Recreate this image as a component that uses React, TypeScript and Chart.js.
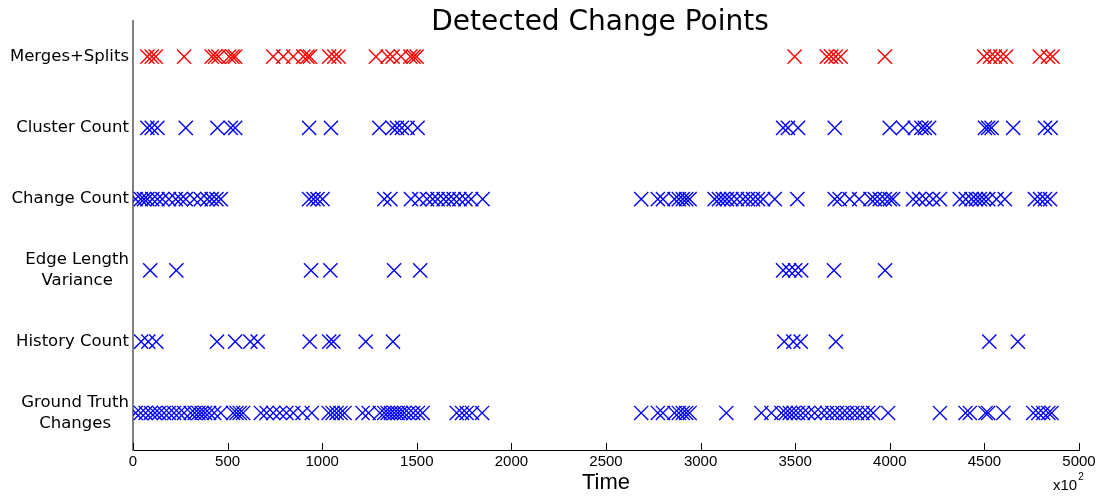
import { useEffect, useRef } from "react";
import { Chart, registerables } from "chart.js";

Chart.register(...registerables);

// Row labels, bottom (y = 0) to top (y = 5)
const rowLabels = [
  "Ground Truth\nChanges",
  "History Count",
  "Edge Length\nVariance",
  "Change Count",
  "Cluster Count",
  "Merges+Splits",
];

const xTickStep = 500;
const xMin = 0;
const xMax = 5000;

const mergesSplits = [
  76, 99, 120, 270, 416, 434, 452, 508, 526, 540, 741, 794, 847, 900, 922, 935,
  1037, 1064, 1087, 1284, 1346, 1372, 1416, 1466, 1483, 1499,
  3497, 3667, 3690, 3714, 3740, 3974, 4498, 4530, 4555, 4585, 4614, 4793, 4836, 4860,
];

const clusterCount = [
  76, 99, 129, 279, 446, 517, 540, 931, 1046, 1302, 1372, 1395, 1421, 1451, 1504,
  3436, 3462, 3515, 3709, 4000, 4070, 4132, 4167, 4185, 4208, 4503, 4520, 4538,
  4652, 4820, 4850,
];

const changeCount = [
  14, 41, 58, 76, 102, 129, 155, 190, 226, 252, 279, 323, 358, 393, 416, 441, 464,
  931, 954, 975, 1002, 1328, 1360, 1469, 1513, 1554, 1584, 1610, 1642, 1668, 1695,
  1725, 1757, 1787, 1848,
  2686, 2774, 2801, 2862, 2885, 2906, 2924, 2942, 3074, 3097, 3118, 3139, 3162,
  3192, 3224, 3250, 3277, 3303, 3330, 3392, 3511, 3709, 3735, 3788, 3838, 3898,
  3921, 3947, 3974, 4000, 4017, 4123, 4155, 4190, 4229, 4265, 4370, 4402, 4432,
  4455, 4476, 4497, 4520, 4564, 4608, 4767, 4794, 4820, 4847,
];

const edgeLengthVariance = [
  91, 229, 941, 1043, 1380, 1518, 3436, 3468, 3500, 3532, 3705, 3975,
];

const historyCount = [
  43, 81, 123, 444, 540, 620, 659, 934, 1037, 1059, 1230, 1374, 3442, 3490, 3529,
  3715, 4526, 4677,
];

const groundTruth = [
  14, 41, 67, 94, 116, 138, 164, 190, 217, 243, 270, 305, 326, 346, 363, 381, 402,
  429, 464, 529, 547, 564, 582, 676, 706, 741, 776, 811, 847, 896, 945, 1034, 1055,
  1076, 1097, 1118, 1213, 1245, 1305, 1328, 1346, 1363, 1381, 1399, 1416, 1434,
  1457, 1481, 1506, 1531, 1711, 1739, 1763, 1792, 1845,
  2686, 2774, 2801, 2862, 2885, 2906, 2924, 2942, 3136, 3321, 3374, 3427, 3450,
  3471, 3492, 3515, 3541, 3568, 3603, 3639, 3668, 3697, 3721, 3750, 3774, 3803,
  3827, 3855, 3885, 3912, 3991, 4265, 4400, 4423, 4506, 4520, 4600, 4758, 4785,
  4811, 4838, 4855,
];

const series = [
  { values: groundTruth, row: 0, color: "rgb(0,0,255)" },
  { values: historyCount, row: 1, color: "rgb(0,0,255)" },
  { values: edgeLengthVariance, row: 2, color: "rgb(0,0,255)" },
  { values: changeCount, row: 3, color: "rgb(0,0,255)" },
  { values: clusterCount, row: 4, color: "rgb(0,0,255)" },
  { values: mergesSplits, row: 5, color: "rgb(255,0,0)" },
];

const SANS = '"DejaVu Sans", Verdana, sans-serif';
const ARIAL = '"Liberation Sans", Arial, sans-serif';

const decorPlugin = {
  id: "decor",
  afterDraw(chart: any) {
    const ctx = chart.ctx;
    const xs = chart.scales.x;
    const ys = chart.scales.y;
    ctx.save();
    // Title
    ctx.fillStyle = "#000";
    ctx.font = `28px ${SANS}`;
    ctx.textAlign = "center";
    ctx.textBaseline = "middle";
    ctx.fillText("Detected Change Points", 600, 23);

    // Row labels
    ctx.font = `16.5px ${SANS}`;
    const right = 129;
    rowLabels.forEach((lab, i) => {
      const lines = lab.split("\n");
      const w = Math.max(...lines.map((l) => ctx.measureText(l).width));
      const cx = right - w / 2;
      const cy = ys.getPixelForValue(i);
      const lh = 21;
      lines.forEach((l, k) => {
        ctx.fillText(l, cx, cy + (k - (lines.length - 1) / 2) * lh);
      });
    });

    // Inward ticks on x axis
    ctx.strokeStyle = "#000";
    ctx.lineWidth = 1;
    const bottom = chart.chartArea.bottom;
    for (let v = xMin; v <= xMax; v += xTickStep) {
      const px = Math.round(xs.getPixelForValue(v)) + 0.5;
      ctx.beginPath();
      ctx.moveTo(px, bottom);
      ctx.lineTo(px, bottom - 7);
      ctx.stroke();
    }

    // x10^2 multiplier
    ctx.textAlign = "left";
    ctx.textBaseline = "alphabetic";
    ctx.font = `15px ${ARIAL}`;
    ctx.fillText("x10", 1053, 490);
    const w = ctx.measureText("x10").width;
    ctx.font = `10px ${ARIAL}`;
    ctx.fillText("2", 1053 + w + 1, 480);
    ctx.restore();
  },
};

export default function App() {
  const ref = useRef<HTMLCanvasElement | null>(null);
  useEffect(() => {
    document.body.style.margin = "0";
    const canvas = ref.current;
    if (!canvas) return;
    const chart = new Chart(canvas, {
      type: "scatter",
      data: {
        datasets: series.map((s) => ({
          data: s.values.map((v) => ({ x: v, y: s.row })),
          pointStyle: "crossRot",
          pointRadius: 10,
          pointHoverRadius: 10,
          borderColor: s.color,
          pointBorderColor: s.color,
          backgroundColor: s.color,
          pointBackgroundColor: s.color,
          borderWidth: 1.4,
          pointBorderWidth: 1.4,
        })),
      },
      options: {
        animation: false,
        responsive: false,
        events: [],
        layout: { padding: { left: 8, top: 21, right: 29, bottom: 0 } },
        plugins: {
          legend: { display: false },
          tooltip: { enabled: false },
          title: { display: false },
        },
        scales: {
          x: {
            type: "linear",
            min: xMin,
            max: xMax,
            position: "bottom",
            ticks: {
              stepSize: xTickStep,
              color: "#000",
              font: { family: ARIAL, size: 15 },
              padding: 3,
              maxRotation: 0,
              autoSkip: false,
              callback: (v: any) => String(v),
            },
            grid: { display: true, drawOnChartArea: false, drawTicks: false },
            border: { display: true, color: "#000", width: 1 },
            title: {
              display: true,
              text: "Time",
              color: "#000",
              font: { family: ARIAL, size: 22 },
              padding: { top: 0, bottom: 0 },
            },
            afterFit: (s: any) => {
              s.height = 46;
            },
          },
          y: {
            type: "linear",
            min: -0.52,
            max: 5.5,
            ticks: { display: false },
            grid: { display: false },
            border: { display: true, color: "#808080", width: 2 },
            afterFit: (s: any) => {
              s.width = 125;
            },
          },
        },
      },
      plugins: [decorPlugin],
    } as any);
    return () => chart.destroy();
  }, []);
  return (
    <div style={{ width: 1108, height: 496, background: "#fff" }}>
      <canvas ref={ref} width={1108} height={496} />
    </div>
  );
}
